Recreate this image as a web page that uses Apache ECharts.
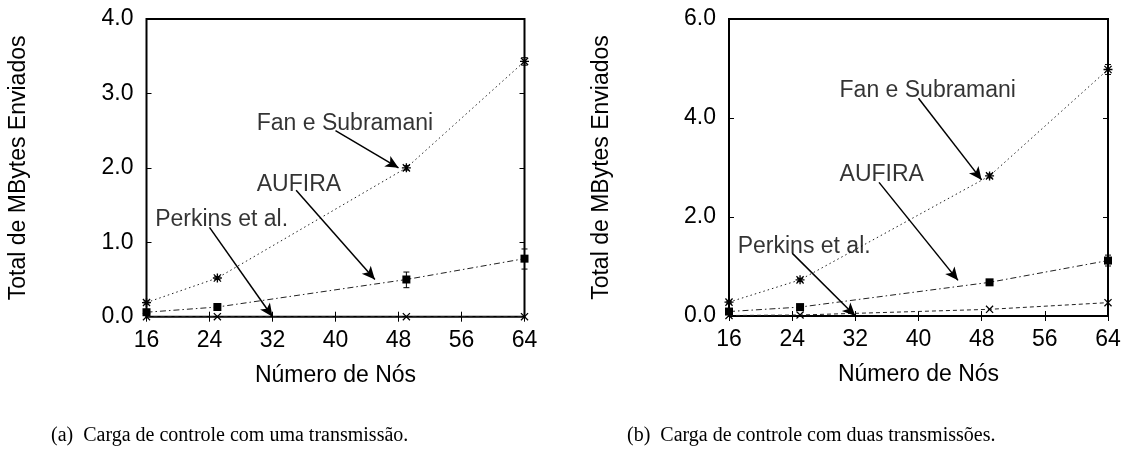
<!DOCTYPE html>
<html>
<head>
<meta charset="utf-8">
<script src="https://cdn.jsdelivr.net/npm/echarts@6/dist/echarts.min.js"></script>
<style>
html,body{margin:0;padding:0;background:#fff;}
#c{width:1130px;height:450px;}
</style>
</head>
<body>
<div id="c"></div>
<script>
// ---- data ----
const nodes = [16, 25, 49, 64];
const xTicks = [16, 24, 32, 40, 48, 56, 64];

// (a) one transmission
const fanA = [0.19, 0.52, 2.0, 3.43];
const fanAErrLow = [0.17, 0.50, 1.97, 3.38];
const fanAErrHigh = [0.21, 0.54, 2.03, 3.48];
const aufiraA = [0.06, 0.13, 0.50, 0.78];
const aufiraAErrLow = [0.05, 0.12, 0.39, 0.64];
const aufiraAErrHigh = [0.07, 0.14, 0.60, 0.91];
const perkinsA = [0.0, 0.0, 0.0, 0.0];

// (b) two transmissions
const fanB = [0.28, 0.73, 2.83, 4.98];
const fanBErrLow = [0.26, 0.70, 2.79, 4.88];
const fanBErrHigh = [0.30, 0.76, 2.87, 5.08];
const aufiraB = [0.09, 0.18, 0.68, 1.12];
const aufiraBErrLow = [0.08, 0.17, 0.66, 1.01];
const aufiraBErrHigh = [0.10, 0.19, 0.70, 1.23];
const perkinsB = [0.01, 0.02, 0.135, 0.27];

// annotations: label anchor (left-middle) and arrow from -> to, in data units
const labelsA = [
  {text: 'Fan e Subramani', at: [30, 2.6], from: [40, 2.5], to: [48, 2.0]},
  {text: 'AUFIRA', at: [30, 1.78], from: [35, 1.7], to: [45, 0.5]},
  {text: 'Perkins et al.', at: [17.1, 1.3], from: [24, 1.2], to: [32, 0]}
];
const labelsB = [
  {text: 'Fan e Subramani', at: [30, 4.55], from: [40, 4.4], to: [48, 2.75]},
  {text: 'AUFIRA', at: [30, 2.85], from: [35, 2.7], to: [45, 0.72]},
  {text: 'Perkins et al.', at: [17.1, 1.41], from: [24, 1.27], to: [32, 0]}
];

const captionA = '(a)  Carga de controle com uma transmissão.';
const captionB = '(b)  Carga de controle com duas transmissões.';
const xTitle = 'Número de Nós';
const yTitle = 'Total de MBytes Enviados';

// ---- styles ----
const SANS = 'Liberation Sans, Arial, Helvetica, sans-serif';
const SERIF = 'Liberation Serif, Times New Roman, serif';
const FS = 23;
const asterisk = 'path://M0 8.5L20 8.5L20 11.5L0 11.5Z M8.5 0L11.5 0L11.5 20L8.5 20Z M1 3L3 1L19 17L17 19Z M17 1L19 3L3 19L1 17Z';
const cross = 'path://M1 3L3 1L19 17L17 19Z M17 1L19 3L3 19L1 17Z';

const chart = echarts.init(document.getElementById('c'), null, {renderer: 'canvas'});

const grids = [
  {left: 146.5, top: 19, width: 378, height: 297.7, show: true, borderColor: '#000', borderWidth: 2, backgroundColor: 'transparent'},
  {left: 729, top: 19, width: 379, height: 297, show: true, borderColor: '#000', borderWidth: 2, backgroundColor: 'transparent'}
];

function xAxes(gi) {
  const base = {type: 'value', gridIndex: gi, min: 16, max: 64, interval: 8,
    splitLine: {show: false}, axisLine: {show: false},
    axisTick: {show: true, inside: true, length: 5, lineStyle: {color: '#000', width: 1}}};
  return [
    Object.assign({}, base, {position: 'bottom', name: xTitle, nameLocation: 'middle', nameGap: 47,
      nameTextStyle: {fontFamily: SANS, fontSize: FS, color: '#000'},
      axisLabel: {show: true, margin: 12, fontFamily: SANS, fontSize: FS, color: '#000'}}),
    Object.assign({}, base, {position: 'top', axisLabel: {show: false}})
  ];
}
function yAxes(gi, max, interval) {
  const base = {type: 'value', gridIndex: gi, min: 0, max: max, interval: interval,
    splitLine: {show: false}, axisLine: {show: false},
    axisTick: {show: true, inside: true, length: 5, lineStyle: {color: '#000', width: 1}}};
  return [
    Object.assign({}, base, {position: 'left', name: yTitle, nameLocation: 'middle', nameGap: 116, nameRotate: 90,
      nameTextStyle: {fontFamily: SANS, fontSize: FS, color: '#000'},
      axisLabel: {show: true, margin: 13, fontFamily: SANS, fontSize: FS, color: '#000',
        formatter: v => v.toFixed(1)}}),
    Object.assign({}, base, {position: 'right', axisLabel: {show: false}})
  ];
}

const xAxis = xAxes(0).concat(xAxes(1));
const yAxis = yAxes(0, 4, 1).concat(yAxes(1, 6, 2));

function pairs(xs, ys) { return xs.map((x, i) => [x, ys[i]]); }

function lineSeries(xi, yi, vals, symbol, size, dash) {
  return {
    type: 'line', xAxisIndex: xi, yAxisIndex: yi, data: pairs(nodes, vals),
    symbol: symbol, symbolSize: size, showSymbol: true,
    itemStyle: {color: '#000'},
    lineStyle: {color: '#222', width: 1, type: dash},
    z: 3, animation: false
  };
}

function errSeries(xi, yi, lows, highs) {
  return {
    type: 'custom', xAxisIndex: xi, yAxisIndex: yi,
    data: nodes.map((x, i) => [x, lows[i], highs[i]]),
    renderItem: function (params, api) {
      const lo = api.coord([api.value(0), api.value(1)]);
      const hi = api.coord([api.value(0), api.value(2)]);
      const w = 3;
      const st = {stroke: '#000', lineWidth: 1};
      return {type: 'group', children: [
        {type: 'line', shape: {x1: lo[0], y1: lo[1], x2: hi[0], y2: hi[1]}, style: st},
        {type: 'line', shape: {x1: lo[0] - w, y1: lo[1], x2: lo[0] + w, y2: lo[1]}, style: st},
        {type: 'line', shape: {x1: hi[0] - w, y1: hi[1], x2: hi[0] + w, y2: hi[1]}, style: st}
      ]};
    },
    z: 2, animation: false, silent: true
  };
}

function annotSeries(xi, yi, labels) {
  return [
    {
      type: 'scatter', xAxisIndex: xi, yAxisIndex: yi, symbolSize: 0,
      data: labels.map(l => ({value: l.at, name: l.text})),
      label: {show: true, position: 'right', distance: 0, formatter: p => p.name,
        fontFamily: SANS, fontSize: FS, color: '#000'},
      z: 5, animation: false, silent: true
    },
    {
      type: 'line', xAxisIndex: xi, yAxisIndex: yi, data: [], silent: true, animation: false,
      markLine: {
        silent: true, animation: false,
        symbol: ['none', 'arrow'], symbolSize: [9, 13],
        label: {show: false},
        lineStyle: {color: '#000', width: 1.5, type: 'solid'},
        data: labels.map(l => [{coord: l.from}, {coord: l.to}])
      }
    }
  ];
}

const series = [
  lineSeries(0, 0, fanA, asterisk, 9, [1.5, 3]),
  lineSeries(0, 0, aufiraA, 'rect', 8, [6, 3, 1.5, 3]),
  lineSeries(0, 0, perkinsA, cross, 8, [4, 3]),
  errSeries(0, 0, fanAErrLow, fanAErrHigh),
  errSeries(0, 0, aufiraAErrLow, aufiraAErrHigh),
  lineSeries(2, 2, fanB, asterisk, 9, [1.5, 3]),
  lineSeries(2, 2, aufiraB, 'rect', 8, [6, 3, 1.5, 3]),
  lineSeries(2, 2, perkinsB, cross, 8, [4, 3]),
  errSeries(2, 2, fanBErrLow, fanBErrHigh),
  errSeries(2, 2, aufiraBErrLow, aufiraBErrHigh)
].concat(annotSeries(0, 0, labelsA), annotSeries(2, 2, labelsB));

chart.setOption({
  backgroundColor: '#fff',
  animation: false,
  title: [
    {text: captionA, left: 46, top: 421,
      textStyle: {fontFamily: SERIF, fontSize: 20, fontWeight: 'normal', color: '#000'}},
    {text: captionB, left: 622, top: 421,
      textStyle: {fontFamily: SERIF, fontSize: 20, fontWeight: 'normal', color: '#000'}}
  ],
  grid: grids,
  xAxis: xAxis,
  yAxis: yAxis,
  series: series
});
</script>
</body>
</html>
